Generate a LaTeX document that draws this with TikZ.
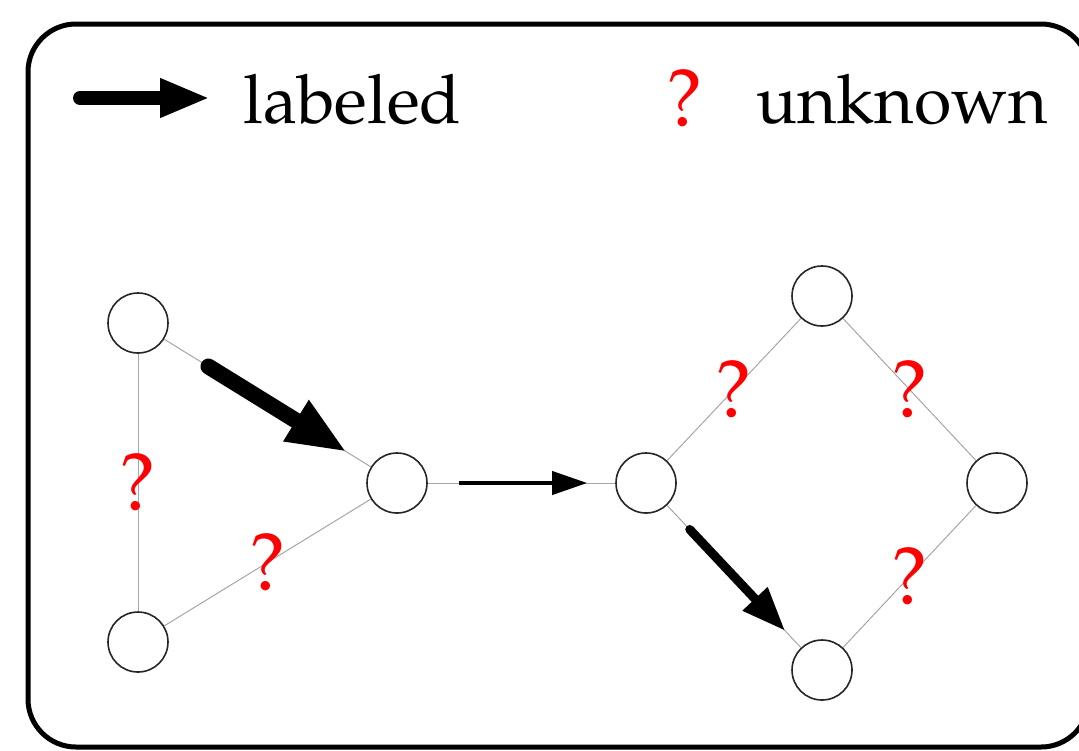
\documentclass[tikz,border=0pt]{standalone}
\usepackage[T1]{fontenc}
\usepackage{mathpazo}
\usetikzlibrary{arrows.meta}

\tikzset{
  vertex/.style={circle,draw=black!85,line width=0.8pt,minimum size=30pt,inner sep=0pt,fill=white},
  edge/.style={draw=black!35,line width=0.5pt},
  qmark/.style={text=red,font=\fontsize{41}{41}\selectfont,inner sep=0pt},
  keytext/.style={font=\fontsize{34}{34}\selectfont,anchor=base west,inner sep=0pt},
  bigarrow/.style={line width=8pt,line cap=round,-{Triangle[length=30pt,width=22pt]}},
  midarrow/.style={line width=4.5pt,line cap=round,-{Triangle[length=22pt,width=16pt]}},
  thinarrow/.style={line width=2pt,-{Triangle[length=17.5pt,width=11.5pt]}}
}

\begin{document}
\begin{tikzpicture}[x=0.5pt,y=-0.5pt]
\useasboundingbox (0,0) rectangle (1079,750);
\draw[line width=2.5pt,rounded corners=24pt] (28,24) rectangle (1089,747);

% key
\coordinate (keyL) at (80,98);
\coordinate (keyR) at (210,98);
\draw[bigarrow,line width=7pt,-{Triangle[length=25pt,width=18pt]}] (keyL) -- (keyR);
\node[keytext] (lab) at (243,123) {labeled};
\node[qmark,anchor=base] (qkey) at (685,126) {?};
\node[keytext] (unk) at (756,123) {unknown};

% graph
\node[vertex] (a) at (138,323) {};
\node[vertex] (b) at (138,642) {};
\node[vertex] (c) at (397,483) {};
\node[vertex] (d) at (646,483) {};
\node[vertex] (e) at (822,296) {};
\node[vertex] (f) at (997,483) {};
\node[vertex] (g) at (822,670) {};

\foreach \u/\v in {a/c,c/d,d/g}
  \draw[edge] (\u) -- (\v);
\foreach \u/\v in {a/b,b/c,d/e,e/f,f/g}
  \draw[edge] (\u) -- node[qmark,midway] {?} (\v);

\draw[bigarrow,shorten <=26pt,shorten >=14pt] (a) -- (c);
\draw[thinarrow,shorten <=15.5pt,shorten >=14pt] (c) -- (d);
\draw[midarrow,shorten <=16.5pt,shorten >=11.5pt] (d) -- (g);
\end{tikzpicture}
\end{document}
